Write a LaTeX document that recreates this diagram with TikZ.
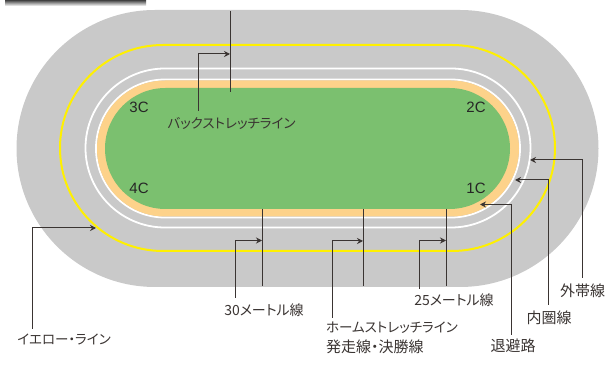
\documentclass[tikz,border=0pt]{standalone}
\usepackage{fontspec}
\setmainfont[RawFeature=+palt]{Noto Sans CJK JP}
\newfontfamily\cornerfont{Liberation Sans}
\usetikzlibrary{arrows.meta, positioning}
\definecolor{trackgrey}{HTML}{C9C9C9}
\definecolor{yellowline}{HTML}{FFF000}
\definecolor{sandband}{HTML}{FDD28A}
\definecolor{turfgreen}{HTML}{7BC06F}
\definecolor{inkline}{HTML}{3A3432}
\tikzset{
  leader/.style={-{Stealth[length=6pt,width=6pt]}, draw=inkline, line width=1pt},
  markline/.style={draw=inkline, line width=1pt},
  tracklabel/.style={text=inkline, font=\fontsize{13.5}{18}\selectfont, inner sep=0pt},
  metrelabel/.style={text=inkline, font=\fontsize{14}{18}\selectfont, inner sep=0pt},
  kanjilabel/.style={text=inkline, font=\fontsize{15}{18}\selectfont, inner sep=0pt},
  cornerlabel/.style={text=black!85, font=\cornerfont\fontsize{15}{15}\selectfont, inner sep=0pt}
}
\begin{document}
\begin{tikzpicture}[x=1pt,y=-1pt]
            \useasboundingbox (0,0) rectangle (606,379);
            % header bar
            \shade[top color=black!75, bottom color=white] (5,0) rectangle (146,6);
            
            % track
            \fill[trackgrey] (155,10) -- (460,10) arc[start angle=-90,end angle=90,radius=138.5] -- (155,287) arc[start angle=90,end angle=270,radius=138.5] -- cycle;
            \draw[yellowline, line width=2pt] (163,45) -- (452,45) arc[start angle=-90,end angle=90,radius=103] -- (163,251) arc[start angle=90,end angle=270,radius=103] -- cycle;
            \draw[white, line width=1.8pt] (165,68.5) -- (451,68.5) arc[start angle=-90,end angle=90,radius=79.5] -- (165,227.5) arc[start angle=90,end angle=270,radius=79.5] -- cycle;
            \draw[white, line width=1.8pt] (165,79.5) -- (451,79.5) arc[start angle=-90,end angle=90,radius=69] -- (165,217.5) arc[start angle=90,end angle=270,radius=69] -- cycle;
            \fill[sandband] (165,80.5) -- (451,80.5) arc[start angle=-90,end angle=90,radius=68] -- (165,216.5) arc[start angle=90,end angle=270,radius=68] -- cycle;
            \fill[turfgreen] (165.5,88) -- (449.5,88) arc[start angle=-90,end angle=90,radius=60.5] -- (165.5,209) arc[start angle=90,end angle=270,radius=60.5] -- cycle;
            
            \node[cornerlabel] (C3) at (139,107) {3C};
            \node[cornerlabel] (C2) at (476,107) {2C};
            \node[cornerlabel] (C4) at (139,188) {4C};
            \node[cornerlabel] (C1) at (476,188) {1C};
            
            \node[tracklabel] (back) at (231.5,123) {バックストレッチライン};
            \node[metrelabel] (m30) at (264,310) {30メートル線};
            \node[tracklabel, anchor=west] (home) at (326,328) {ホームストレッチライン};
            \node[kanjilabel, anchor=west] (goal) at (326,347) {発走線・決勝線};
            \node[metrelabel] (m25) at (454,300) {25メートル線};
            \node[tracklabel] (yellow) at (64,339) {イエロー・ライン};
            \node[kanjilabel] (retreat) at (513,346) {退避路};
            \node[kanjilabel] (inner) at (549,318) {内圏線};
            \node[kanjilabel] (outer) at (582.5,291) {外帯線};
            
            % finish and distance lines
            \coordinate (backT) at (230,11);
            \coordinate (backB) at (230,92);
            \coordinate (m30T) at (262,209);
            \coordinate (m30B) at (262,286);
            \coordinate (homeT) at (363,209);
            \coordinate (homeB) at (363,286);
            \coordinate (m25T) at (446,209);
            \coordinate (m25B) at (446,286);
            \draw[markline] (backT) -- (backB);
            \draw[markline] (m30T) -- (m30B);
            \draw[markline] (homeT) -- (homeB);
            \draw[markline] (m25T) -- (m25B);
            
            % leaders
            \coordinate (backS) at (198.5,111);
            \coordinate (backE) at (230,54);
            \coordinate (m30S) at (235,298);
            \coordinate (m30E) at (262,240.5);
            \coordinate (homeS) at (332.5,318);
            \coordinate (homeE) at (363,241);
            \coordinate (m25S) at (419,289);
            \coordinate (m25E) at (446,240.5);
            \coordinate (yellowS) at (32,329);
            \coordinate (yellowE) at (96,228);
            \coordinate (retreatS) at (511.5,335);
            \coordinate (retreatE) at (480,204.5);
            \coordinate (innerS) at (548,305);
            \coordinate (innerE) at (515,180);
            \coordinate (outerS) at (582,278);
            \coordinate (outerE) at (530,160);
            
            \draw[leader] (backS) |- (backE);
            \draw[leader] (m30S) |- (m30E);
            \draw[leader] (homeS) |- (homeE);
            \draw[leader] (m25S) |- (m25E);
            \draw[leader] (yellowS) |- (yellowE);
            \draw[leader] (retreatS) |- (retreatE);
            \draw[leader] (innerS) |- (innerE);
            \draw[leader] (outerS) |- (outerE);
            
            \end{tikzpicture}
\end{document}
